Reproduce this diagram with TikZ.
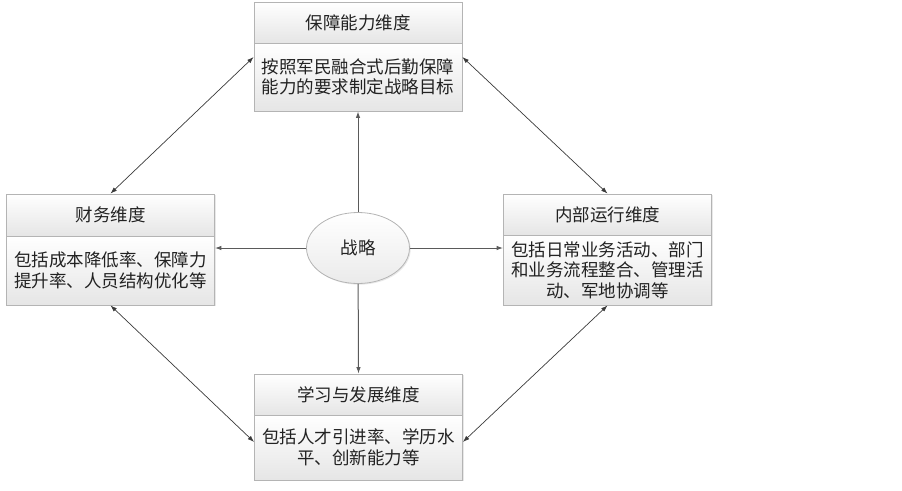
\documentclass[tikz,border=0pt]{standalone}
\usepackage{fontspec}
\newfontfamily\cjk{Noto Sans CJK SC}
\usetikzlibrary{shapes.geometric,arrows.meta,shadows,calc}
\definecolor{bordergray}{HTML}{B4B4B4}
\definecolor{arrowgray}{HTML}{3A3A3A}
\definecolor{linegray}{HTML}{5A5A5A}
\definecolor{txt}{HTML}{222222}
\begin{document}
\begin{tikzpicture}[x=1pt,y=-1pt,
  sect/.style={draw=bordergray, line width=0.8pt, top color=white, bottom color=black!10,
    minimum width=208pt, inner sep=0pt, text=txt, align=center,
    font=\cjk\fontsize{17.5}{20.5}\selectfont,
    drop shadow={opacity=0.18, shadow xshift=1.2pt, shadow yshift=-1.2pt}},
  hdr/.style={sect, minimum height=41pt},
  bdy/.style={sect, minimum height=68pt},
  oval/.style={ellipse, draw=bordergray, line width=0.8pt, top color=white, bottom color=black!8,
    minimum width=103pt, minimum height=71pt, inner sep=0pt, text=txt,
    font=\cjk\fontsize{17.5}{20}\selectfont,
    drop shadow={opacity=0.18, shadow xshift=1.2pt, shadow yshift=-1.2pt}},
  dbl/.style={{Latex[length=6.5pt,width=4.5pt]}-{Latex[length=6.5pt,width=4.5pt]}, draw=arrowgray, line width=0.7pt},
  radial/.style={-{Latex[length=6.5pt,width=4.5pt]}, draw=linegray, line width=1pt}
]
\useasboundingbox (0,0) rectangle (902,490);

% top box
\node[hdr] (topH) at (358,22.5) {保障能力维度};
\node[bdy] (topB) at (358,77) {按照军民融合式后勤保障\\能力的要求制定战略目标};
% left box
\node[hdr, minimum height=42pt] (leftH) at (110.5,215) {财务维度};
\node[bdy, minimum height=69pt] (leftB) at (110.5,270.5) {包括成本降低率、保障力\\提升率、人员结构优化等};
% right box
\node[hdr] (rightH) at (607.5,214.5) {内部运行维度};
\node[bdy, minimum height=70pt] (rightB) at (607.5,270) {包括日常业务活动、部门\\和业务流程整合、管理活\\动、军地协调等};
% bottom box
\node[hdr] (botH) at (358.5,394.5) {学习与发展维度};
\node[bdy, minimum height=65pt] (botB) at (358.5,447.5) {包括人才引进率、学历水\\平、创新能力等};
% center
\node[oval] (c) at (358,248) {战略};

% center arrows
\draw[radial] (c) -- (topB.south);
\draw[radial] (c) -- (c -| leftB.east);
\draw[radial] (c) -- (c -| rightB.west);
\draw[radial] (c) -- (botH.north);

% diagonal arrows
\coordinate (tl) at (topB.west |- 0,57);
\coordinate (tr) at (topB.east |- 0,57);
\coordinate (bl) at (botB.west |- 0,442);
\coordinate (br) at (botB.east |- 0,442);
\draw[dbl] (leftH.north) -- (tl);
\draw[dbl] (tr) -- (rightH.north);
\draw[dbl] (rightB.south) -- (br);
\draw[dbl] (bl) -- (leftB.south);
\end{tikzpicture}
\end{document}
